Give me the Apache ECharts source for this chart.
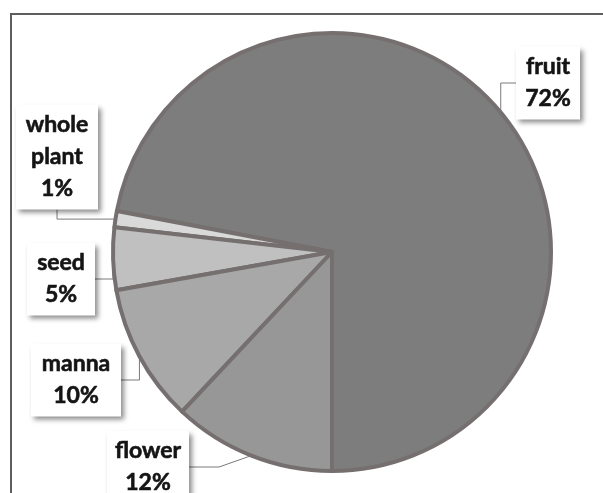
<!DOCTYPE html>
<html>
<head>
<meta charset="utf-8">
<script src="https://cdn.jsdelivr.net/npm/echarts@6/dist/echarts.min.js"></script>
<style>
html,body{margin:0;padding:0;background:#fff;}
#c{width:603px;height:493px;}
</style>
</head>
<body>
<div id="c"></div>
<script>
// Data
const categories = ['fruit', 'whole plant', 'seed', 'manna', 'flower'];
const values = [72, 1.2, 4.6, 10.2, 12];

// Styling (kept separate from data)
const sliceColors = ['#7d7d7d', '#d9d9d9', '#c0c0c0', '#a8a8a8', '#979797'];
const labelCenters = [[548, 83], [57, 157], [61, 279], [76, 380], [148, 467]];
const labelWidths = [48, 66, 52, 74, 66];

const chart = echarts.init(document.getElementById('c'), null, {renderer: 'canvas'});

const option = {
  backgroundColor: '#ffffff',
  animation: false,
  graphic: [{
    type: 'rect',
    shape: {x: 11, y: 14, width: 640, height: 540},
    style: {fill: 'none', stroke: '#5e5e5e', lineWidth: 2},
    z: 0
  }],
  series: [{
    type: 'pie',
    center: [332, 252],
    radius: 219,
    startAngle: 270,
    clockwise: false,
    percentPrecision: 0,
    itemStyle: {borderColor: '#75706f', borderWidth: 4},
    label: {
      show: true,
      position: 'outside',
      overflow: 'none',
      formatter: p => p.name.replace(' ', '\n') + '\n' + p.percent + '%',
      fontFamily: 'Lato',
      fontWeight: 'bold',
      fontSize: 23,
      lineHeight: 32,
      color: '#141414',
      textBorderColor: '#141414',
      textBorderWidth: 0.6,
      align: 'center',
      backgroundColor: '#ffffff',
      padding: [5, 8, 4, 8],
      shadowColor: 'rgba(0,0,0,0.45)',
      shadowBlur: 5,
      shadowOffsetX: 3,
      shadowOffsetY: 3
    },
    labelLine: {
      show: true,
      lineStyle: {color: '#7a7a7a', width: 1}
    },
    labelLayout: function (params) {
      const c = labelCenters[params.dataIndex];
      return {x: c[0], y: c[1], align: 'center', verticalAlign: 'middle'};
    },
    data: categories.map((n, i) => ({
      name: n,
      value: values[i],
      itemStyle: {color: sliceColors[i]},
      label: {width: labelWidths[i]}
    }))
  }]
};
chart.setOption(option);
</script>
</body>
</html>
